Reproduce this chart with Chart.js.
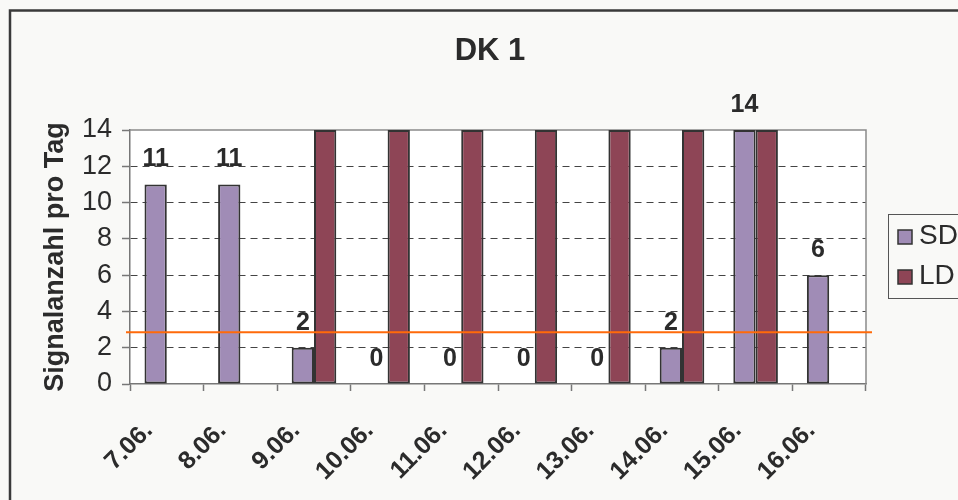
<!DOCTYPE html>
<html>
<head>
<meta charset="utf-8">
<script src="https://cdn.jsdelivr.net/npm/chart.js@4/dist/chart.umd.min.js"></script>
<style>
  html, body { margin: 0; padding: 0; background: #F9F9F7; }
  #wrap { width: 958px; height: 500px; position: relative; }
  canvas { display: block; }
</style>
</head>
<body>
<div id="wrap"><canvas id="c" width="958" height="500"></canvas></div>
<script>
// Daily signal counts, short (SD) and long (LD) signals
const days = ['7.06.', '8.06.', '9.06.', '10.06.', '11.06.', '12.06.', '13.06.', '14.06.', '15.06.', '16.06.'];
const sdValues = [11, 11, 2, 0, 0, 0, 0, 2, 14, 6];
const ldValues = [0, 0, 14, 14, 14, 14, 14, 14, 14, 0];
const seriesNames = ['SD', 'LD'];
const threshold = 2.85;
const yTicks = [0, 2, 4, 6, 8, 10, 12, 14];
const chartTitle = 'DK 1';
const axisTitle = 'Signalanzahl pro Tag';

const FONT = '"Liberation Sans", Arial, sans-serif';
const TEXT = '#2b2b2b';

// Page background, white plot area and the outer frame
const backgroundPlugin = {
  id: 'background',
  beforeDraw(chart) {
    const { ctx, chartArea: a, width, height } = chart;
    ctx.save();
    ctx.fillStyle = '#F9F9F7';
    ctx.fillRect(0, 0, width, height);
    ctx.fillStyle = '#FFFFFF';
    ctx.fillRect(a.left, a.top, a.right - a.left, a.bottom - a.top);
    ctx.strokeStyle = '#3a3a3a';
    ctx.lineWidth = 2.5;
    ctx.beginPath();
    ctx.moveTo(10, height + 5);
    ctx.lineTo(10, 10.5);
    ctx.lineTo(width + 5, 10.5);
    ctx.stroke();
    ctx.restore();
  }
};

// Top and right edges of the plot area
const framePlugin = {
  id: 'frame',
  beforeDatasetsDraw(chart) {
    const { ctx, chartArea: a } = chart;
    ctx.save();
    ctx.strokeStyle = '#8a8a8a';
    ctx.lineWidth = 1.5;
    ctx.beginPath();
    ctx.moveTo(a.left, a.top);
    ctx.lineTo(a.right, a.top);
    ctx.lineTo(a.right, a.bottom);
    ctx.stroke();
    ctx.restore();
  }
};

// Orange reference line and SD value labels
const overlayPlugin = {
  id: 'overlay',
  afterDatasetsDraw(chart) {
    const { ctx, chartArea: a } = chart;
    const y = chart.scales.y.getPixelForValue(threshold);
    ctx.save();
    ctx.strokeStyle = '#FF6A0A';
    ctx.lineWidth = 2;
    ctx.beginPath();
    ctx.moveTo(a.left - 4, y);
    ctx.lineTo(a.right + 6, y);
    ctx.stroke();

    ctx.font = 'bold 25px ' + FONT;
    ctx.fillStyle = TEXT;
    ctx.textAlign = 'center';
    ctx.textBaseline = 'alphabetic';
    chart.getDatasetMeta(0).data.forEach((bar, i) => {
      ctx.fillText(String(sdValues[i]), bar.x, bar.y - 18);
    });
    ctx.restore();
  }
};

// Title and boxed legend
const decorPlugin = {
  id: 'decor',
  afterDraw(chart) {
    const { ctx, chartArea: a } = chart;
    ctx.save();
    ctx.font = 'bold 31px ' + FONT;
    ctx.fillStyle = TEXT;
    ctx.textAlign = 'center';
    ctx.textBaseline = 'middle';
    ctx.fillText(chartTitle, 490, 51);

    const lx = a.right + 22, ly = a.top + 84;
    ctx.strokeStyle = '#555';
    ctx.lineWidth = 1;
    ctx.strokeRect(lx + 0.5, ly + 0.5, 120, 84);
    ctx.font = '28px ' + FONT;
    ctx.textAlign = 'left';
    chart.data.datasets.forEach((ds, i) => {
      const sy = ly + 16 + i * 40;
      ctx.fillStyle = ds.backgroundColor;
      ctx.fillRect(lx + 10, sy, 14, 14);
      ctx.strokeStyle = '#333';
      ctx.lineWidth = 1.5;
      ctx.strokeRect(lx + 10, sy, 14, 14);
      ctx.fillStyle = TEXT;
      ctx.fillText(ds.label, lx + 31, sy + 6);
    });
    ctx.restore();
  }
};

new Chart(document.getElementById('c'), {
  type: 'bar',
  data: {
    labels: days,
    datasets: [
      {
        label: seriesNames[0],
        data: sdValues,
        backgroundColor: '#A08CB6',
        borderColor: '#333333',
        borderWidth: 2,
        borderSkipped: false,
        categoryPercentage: 0.606,
        barPercentage: 1.0
      },
      {
        label: seriesNames[1],
        data: ldValues,
        backgroundColor: '#8E4556',
        borderColor: '#333333',
        borderWidth: 2,
        borderSkipped: false,
        categoryPercentage: 0.606,
        barPercentage: 1.0
      }
    ]
  },
  options: {
    responsive: false,
    animation: false,
    devicePixelRatio: 1,
    layout: { padding: { top: 130, right: 92, left: 39, bottom: 0 } },
    plugins: {
      legend: { display: false },
      title: { display: false },
      tooltip: { enabled: false }
    },
    scales: {
      x: {
        grid: {
          offset: true,
          drawOnChartArea: false,
          drawTicks: true,
          tickLength: 7,
          tickColor: '#777',
          tickWidth: 1.5
        },
        border: { color: '#777', width: 1.5 },
        ticks: {
          autoSkip: false,
          minRotation: 45,
          maxRotation: 45,
          labelOffset: -18,
          padding: 25,
          color: TEXT,
          font: { family: FONT, size: 25, weight: 'bold' }
        },
        afterFit(s) { s.height = 116; }
      },
      y: {
        min: 0,
        max: 14,
        afterBuildTicks(s) { s.ticks = yTicks.map(v => ({ value: v })); },
        grid: {
          color: ctx => (ctx.tick && (ctx.tick.value === 0 || ctx.tick.value === 14)) ? 'rgba(0,0,0,0)' : '#444',
          lineWidth: 1,
          drawTicks: true,
          tickLength: 8,
          tickColor: '#777',
          tickWidth: 1.5
        },
        border: { color: '#777', width: 1.5, dash: [7, 5] },
        ticks: {
          padding: 10,
          color: TEXT,
          font: { family: FONT, size: 27 }
        },
        title: {
          display: true,
          text: axisTitle,
          color: TEXT,
          padding: { top: 0, bottom: 0 },
          font: { family: FONT, size: 27, weight: 'bold' }
        },
        afterFit(s) { s.width = 91; }
      }
    }
  },
  plugins: [backgroundPlugin, framePlugin, overlayPlugin, decorPlugin]
});
</script>
</body>
</html>
